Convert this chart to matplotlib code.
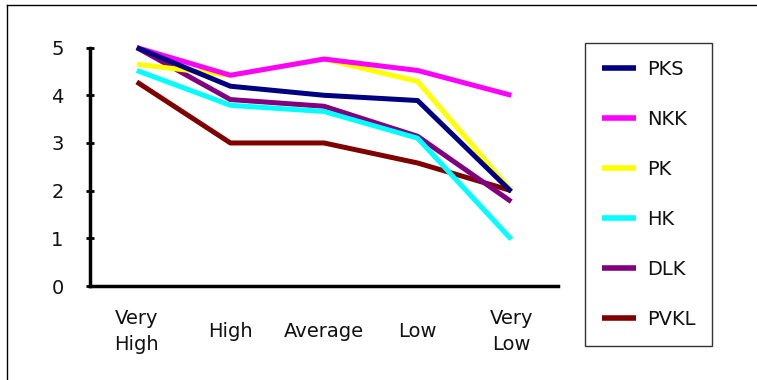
import matplotlib.pyplot as plt
from matplotlib.lines import Line2D

categories = ["Very\nHigh", "High", "Average", "Low", "Very\nLow"]
series_names = ["PKS", "NKK", "PK", "HK", "DLK", "PVKL"]
pks = [5.0, 4.19, 4.0, 3.89, 1.98]
nkk = [5.0, 4.42, 4.76, 4.52, 4.0]
pk = [4.65, 4.42, 4.76, 4.29, 2.0]
hk = [4.52, 3.79, 3.66, 3.1, 0.98]
dlk = [5.0, 3.91, 3.77, 3.14, 1.77]
pvkl = [4.28, 3.0, 3.0, 2.58, 2.0]
colors = ["#000080", "#ff00ff", "#ffff00", "#00ffff", "#800080", "#800000"]

plt.rcParams['font.family'] = ['DejaVu Sans']
FS = 14

fig = plt.figure(figsize=(7.57, 3.80), dpi=100)
ax = fig.add_axes([90/757, 94/380, 468/757, 238.4/380])

x = list(range(len(categories)))
all_series = [pks, nkk, pk, hk, dlk, pvkl]
for i, (name, vals) in enumerate(zip(series_names, all_series)):
    ax.plot(x, vals, color=colors[i], lw=3.6, label=name,
            zorder=10 - i, clip_on=False, solid_capstyle='butt')

ax.set_xlim(-0.5, 4.5)
ax.set_ylim(0, 5)
ax.set_yticks([0, 1, 2, 3, 4, 5])
ax.set_xticks(x)
ax.set_xticklabels(categories, fontsize=FS, linespacing=1.45, color='#111111')
for lbl in ax.get_xticklabels():
    lbl.set_va('center')
ax.tick_params(axis='x', length=0, pad=33)
ax.tick_params(axis='y', direction='inout', length=6, width=2,
               labelsize=FS, labelcolor='#111111', pad=16)
for s in ['top', 'right']:
    ax.spines[s].set_visible(False)
for s in ['left', 'bottom']:
    ax.spines[s].set_linewidth(2.5)

leg = fig.legend(loc='upper left', bbox_to_anchor=(585/757, 1 - 43/380),
                 fontsize=FS, handlelength=1.75, labelspacing=1.6,
                 borderpad=0.85, handletextpad=0.6, borderaxespad=0,
                 fancybox=False, frameon=True)
leg.get_frame().set_edgecolor('black')
leg.get_frame().set_linewidth(1.0)
for h in leg.get_lines():
    h.set_linewidth(4)
for t in leg.get_texts():
    t.set_color('#111111')

fig.add_artist(Line2D([7/757, 1], [1 - 5/380, 1 - 5/380], color='black', lw=1))
fig.add_artist(Line2D([7/757, 7/757], [0, 1 - 5/380], color='black', lw=1))

fig.savefig("out.png", dpi=100)
